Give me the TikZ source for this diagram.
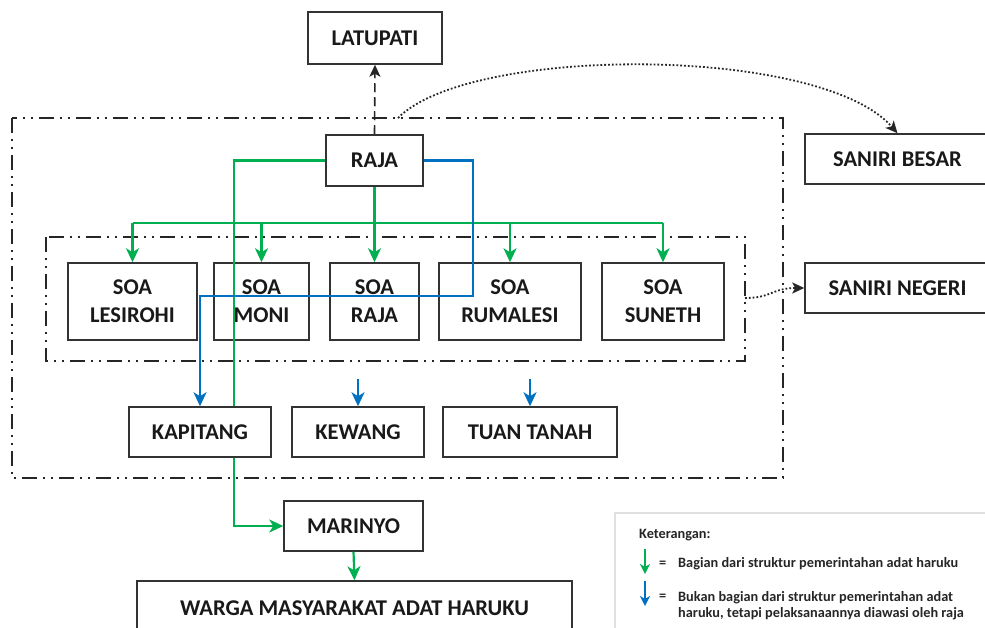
\documentclass[tikz,border=0pt]{standalone}
\usepackage{fontspec}
\setmainfont{Carlito}
\usepackage{tikz}
\usetikzlibrary{arrows.meta,calc,positioning}
\definecolor{soagreen}{RGB}{0,176,80}
\definecolor{soablue}{RGB}{0,112,192}

\begin{document}
\begin{tikzpicture}[x=1pt,y=-1pt,
    box/.style={draw=black!80, line width=1.5pt, fill=white, inner sep=0pt, align=center,
        font=\fontsize{22.5}{28}\selectfont\bfseries, text=black!90, minimum height=50pt},
    soabox/.style={box, minimum height=77pt},
    frame/.style={draw=black!85, line width=1.6pt,
        dash pattern=on 15pt off 6pt on 2pt off 6pt on 2pt off 6pt},
    gline/.style={draw=soagreen, line width=2.2pt},
    garrow/.style={gline, -{Stealth[length=14pt,width=13pt,inset=4pt]}},
    barrow/.style={draw=soablue, line width=2.2pt, -{Stealth[length=14pt,width=13pt,inset=4pt]}},
    legtext/.style={anchor=west, inner sep=0pt, font=\fontsize{14.3}{16}\selectfont\bfseries, text=black!85}]
\useasboundingbox (0,0) rectangle (985,628);

\draw[frame] (12,118) rectangle (783,478);
\draw[frame] (46,237) rectangle (745,361);

\node[box, minimum width=134pt, minimum height=52pt] (latupati) at (375,38) {LATUPATI};
\node[box, minimum width=97pt, minimum height=51pt] (raja) at (374.5,160.5) {RAJA};
\node[soabox, minimum width=129pt] (lesirohi) at (132.5,301.5) {SOA\\LESIROHI};
\node[soabox, minimum width=95pt] (moni) at (261.5,301.5) {SOA\\MONI};
\node[soabox, minimum width=89pt] (soaraja) at (374.5,301.5) {SOA\\RAJA};
\node[soabox, minimum width=142pt] (rumalesi) at (510,301.5) {SOA\\RUMALESI};
\node[soabox, minimum width=122pt] (suneth) at (663,301.5) {SOA\\SUNETH};
\node[box, minimum width=185pt] (besar) at (897.5,159) {SANIRI BESAR};
\node[box, minimum width=185pt] (negeri) at (897.5,288) {SANIRI NEGERI};
\node[box, minimum width=139pt] (marinyo) at (353.5,526) {MARINYO};
\node[box, minimum width=435pt, minimum height=54pt] (warga) at (354.5,608) {WARGA MASYARAKAT ADAT HARUKU};

\draw[draw=black!85, line width=1.6pt, dashed, dash pattern=on 9pt off 5pt,
    -{Stealth[length=12pt,width=11pt,inset=3pt]}] (raja.north) -- (latupati.south);
\coordinate (dstart) at (398,118);
\draw[draw=black!85, line width=1.8pt, dotted, -{Stealth[length=12pt,width=11pt,inset=3pt]}]
    (dstart) .. controls (470,45) and (820,45) .. (besar.north);
\coordinate (innerR) at (745,298);
\draw[draw=black!85, line width=1.8pt, dotted, -{Stealth[length=12pt,width=11pt,inset=3pt]}]
    (innerR) .. controls (772,298) and (772,288) .. (negeri.west);

\coordinate (bus) at (374.5,223);
\draw[gline] (raja.south) -- (bus);
\draw[gline] (lesirohi.north |- bus) -- (suneth.north |- bus);
\foreach \soa in {lesirohi,moni,soaraja,rumalesi,suneth}
    \draw[garrow] (\soa.north |- bus) -- (\soa.north);
\coordinate (gturn) at (234,526);
\draw[garrow] (raja.west) -| (gturn) -- (marinyo.west);
\draw[garrow] (marinyo.south) -- (warga.north);

\node[box, minimum width=142pt] (kapitang) at (200,432) {KAPITANG};
\node[box, minimum width=132pt] (kewang) at (358,432) {KEWANG};
\node[box, minimum width=174pt] (tuan) at (530,432) {TUAN TANAH};

\coordinate (bturn) at (473,296);
\draw[barrow] (raja.east) -| (bturn) -| (kapitang.north);
\draw[barrow] ([yshift=27pt]kewang.north) -- (kewang.north);
\draw[barrow] ([yshift=27pt]tuan.north) -- (tuan.north);

\draw[draw=black!12, line width=1.5pt] (615,513) rectangle (1000,640);
\node[legtext] (ket) at (639,535) {Keterangan:};
\coordinate (g1) at (645,549);
\coordinate (g2) at (645,574);
\draw[draw=soagreen, line width=2pt, -{Stealth[length=10pt,width=10pt,inset=3pt]}] (g1) -- (g2);
\node[legtext] (eq1) at (659,564) {=};
\node[legtext] (leg1) at (678,564) {Bagian dari struktur pemerintahan adat haruku};
\coordinate (b1) at (645,581);
\coordinate (b2) at (645,606);
\draw[draw=soablue, line width=2pt, -{Stealth[length=10pt,width=10pt,inset=3pt]}] (b1) -- (b2);
\node[legtext] (eq2) at (659,597) {=};
\node[legtext] (leg2) at (678,598) {Bukan bagian dari struktur pemerintahan adat};
\node[legtext] (leg3) at (678,614) {haruku, tetapi pelaksanaannya diawasi oleh raja};
\end{tikzpicture}
\end{document}
